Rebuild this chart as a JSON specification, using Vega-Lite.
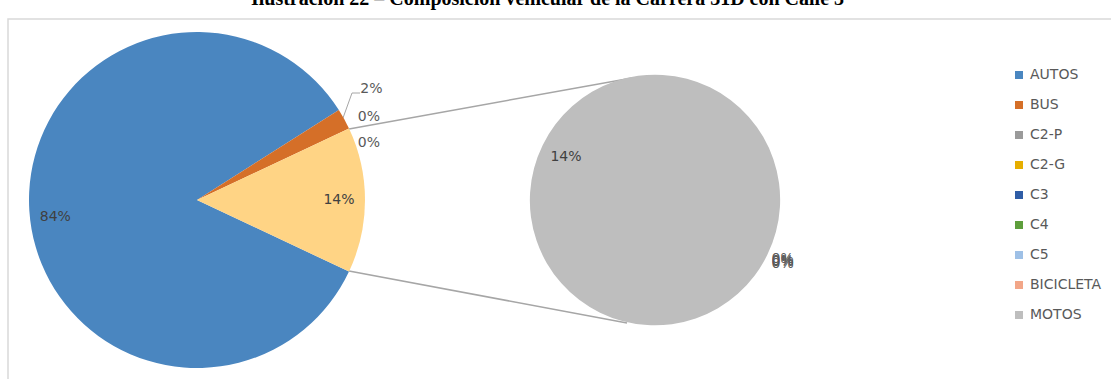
{
  "$schema": "https://vega.github.io/schema/vega-lite/v6.json",
  "width": 1105,
  "height": 362,
  "padding": {"left": 8, "top": 19, "right": 0, "bottom": 0},
  "autosize": {"type": "none"},
  "background": "white",
  "view": {"stroke": "#D9D9D9", "strokeWidth": 1.5},
  "title": {
    "text": "Ilustración 22 – Composición vehicular de la Carrera 31D con Calle 3ª",
    "font": "Liberation Serif",
    "fontSize": 20,
    "fontWeight": "bold",
    "color": "#000000",
    "anchor": "middle",
    "dx": -10,
    "offset": 10
  },
  "config": {
    "view": {"stroke": "#D9D9D9", "strokeWidth": 1.5},
    "font": "DejaVu Sans"
  },
  "datasets": {
    "principal": [
      {"cat": "AUTOS", "pct": 0.84, "ord": 1},
      {"cat": "BUS", "pct": 0.02, "ord": 2},
      {"cat": "C2-P", "pct": 0.0, "ord": 3},
      {"cat": "C2-G", "pct": 0.0, "ord": 4},
      {"cat": "Otros", "pct": 0.14, "ord": 5}
    ],
    "secundario": [
      {"cat": "C3", "pct": 0.0, "ord": 1},
      {"cat": "C4", "pct": 0.0, "ord": 2},
      {"cat": "C5", "pct": 0.0, "ord": 3},
      {"cat": "BICICLETA", "pct": 0.0, "ord": 4},
      {"cat": "MOTOS", "pct": 0.14, "ord": 5}
    ]
  },
  "layer": [
    {
      "data": {"values": [{}]},
      "layer": [
        {"mark": {"type": "rule", "color": "#A6A6A6", "strokeWidth": 1.5}, "encoding": {"x": {"value": 341}, "y": {"value": 110}, "x2": {"value": 624}, "y2": {"value": 59}}},
        {"mark": {"type": "rule", "color": "#A6A6A6", "strokeWidth": 1.5}, "encoding": {"x": {"value": 341}, "y": {"value": 252}, "x2": {"value": 619}, "y2": {"value": 304}}},
        {"mark": {"type": "rule", "color": "#A6A6A6", "strokeWidth": 1}, "encoding": {"x": {"value": 335}, "y": {"value": 99}, "x2": {"value": 344}, "y2": {"value": 74}}},
        {"mark": {"type": "rule", "color": "#A6A6A6", "strokeWidth": 1}, "encoding": {"x": {"value": 344}, "y": {"value": 74}, "x2": {"value": 352}, "y2": {"value": 74}}}
      ]
    },
    {
      "data": {"name": "principal"},
      "encoding": {
        "theta": {"field": "pct", "type": "quantitative", "stack": true, "scale": {"range": [2.0106, 8.2938]}},
        "order": {"field": "ord", "type": "quantitative"}
      },
      "layer": [
        {
          "mark": {"type": "arc", "x": 189, "y": 181, "outerRadius": 168},
          "encoding": {
            "color": {
              "field": "cat",
              "type": "nominal",
              "scale": {
                "domain": ["AUTOS", "BUS", "C2-P", "C2-G", "C3", "C4", "C5", "BICICLETA", "MOTOS", "Otros"],
                "range": ["#4A86C0", "#D56F28", "#9A9A9A", "#E6AE00", "#2F5DA6", "#5E9E3C", "#9EC0E6", "#F2A688", "#BEBEBE", "#FFD485"]
              },
              "legend": {
                "values": ["AUTOS", "BUS", "C2-P", "C2-G", "C3", "C4", "C5", "BICICLETA", "MOTOS"],
                "title": null,
                "orient": "none",
                "legendX": 1004,
                "legendY": 49,
                "symbolType": "square",
                "symbolSize": 64,
                "symbolStrokeWidth": 0,
                "labelFont": "DejaVu Sans",
                "labelFontSize": 14,
                "labelColor": "#595959",
                "labelOffset": 4,
                "rowPadding": 16
              }
            }
          }
        },
        {
          "mark": {"type": "text", "x": 189, "y": 181, "radius": 142, "dy": 8, "font": "DejaVu Sans", "fontSize": 14, "color": "#404040"},
          "encoding": {
            "text": {"condition": {"test": "datum.cat == 'AUTOS'", "field": "pct", "format": ".0%"}, "value": ""}
          }
        },
        {
          "mark": {"type": "text", "x": 189, "y": 181, "radius": 142, "font": "DejaVu Sans", "fontSize": 14, "color": "#404040"},
          "encoding": {
            "text": {"condition": {"test": "datum.cat == 'Otros'", "field": "pct", "format": ".0%"}, "value": ""}
          }
        },
        {
          "mark": {"type": "text", "x": 189, "y": 181, "radius": 207, "dx": -7, "dy": -11, "font": "DejaVu Sans", "fontSize": 14, "color": "#595959"},
          "encoding": {
            "text": {"condition": {"test": "datum.cat == 'BUS'", "field": "pct", "format": ".0%"}, "value": ""}
          }
        },
        {
          "mark": {"type": "text", "x": 189, "y": 181, "radius": 190, "dy": -2, "font": "DejaVu Sans", "fontSize": 14, "color": "#595959"},
          "encoding": {
            "text": {"condition": {"test": "datum.cat == 'C2-P'", "field": "pct", "format": ".0%"}, "value": ""}
          }
        },
        {
          "mark": {"type": "text", "x": 189, "y": 181, "radius": 190, "dy": 24, "font": "DejaVu Sans", "fontSize": 14, "color": "#595959"},
          "encoding": {
            "text": {"condition": {"test": "datum.cat == 'C2-G'", "field": "pct", "format": ".0%"}, "value": ""}
          }
        }
      ]
    },
    {
      "data": {"name": "secundario"},
      "encoding": {
        "theta": {"field": "pct", "type": "quantitative", "stack": true, "scale": {"range": [2.0246, 8.3078]}},
        "order": {"field": "ord", "type": "quantitative"}
      },
      "layer": [
        {
          "mark": {"type": "arc", "x": 647, "y": 181, "outerRadius": 125},
          "encoding": {"color": {"field": "cat", "type": "nominal"}}
        },
        {
          "mark": {"type": "text", "x": 647, "y": 181, "radius": 99, "font": "DejaVu Sans", "fontSize": 14, "color": "#404040"},
          "encoding": {
            "text": {"condition": {"test": "datum.cat == 'MOTOS'", "field": "pct", "format": ".0%"}, "value": ""}
          }
        },
        {
          "mark": {"type": "text", "x": 647, "y": 181, "radius": 142, "font": "DejaVu Sans", "fontSize": 14, "color": "#595959"},
          "encoding": {
            "text": {"condition": {"test": "datum.cat != 'MOTOS'", "field": "pct", "format": ".0%"}, "value": ""},
            "yOffset": {"field": "ord", "type": "quantitative", "scale": {"range": [-3, 3]}, "legend": null}
          }
        }
      ]
    }
  ],
  "resolve": {"scale": {"theta": "independent", "color": "shared"}}
}
